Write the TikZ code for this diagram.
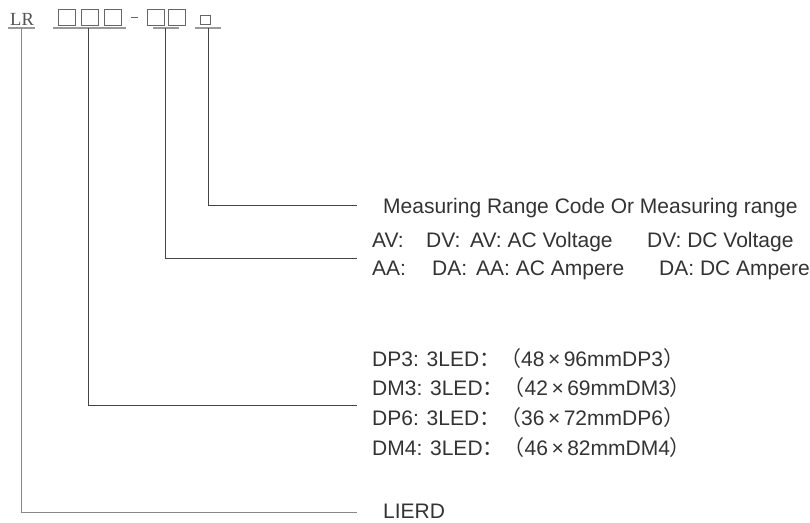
\documentclass[tikz,border=0pt]{standalone}
\usepackage{fontspec}
\setmainfont{Liberation Sans}
\newfontfamily\cjk{Noto Sans CJK SC}
\newfontfamily\serifLR{Liberation Serif}
\definecolor{txt}{HTML}{333333}
\definecolor{ln}{HTML}{444444}
\definecolor{stemgray}{HTML}{888888}
\definecolor{ul}{HTML}{999999}
\definecolor{bx}{HTML}{666666}
\newcommand{\fcolon}{{\cjk ：}}
\newcommand{\flp}{{\cjk （}}
\newcommand{\frp}{{\cjk ）}}
\begin{document}
\begin{tikzpicture}[x=1pt,y=-1pt,
  lbl/.style={anchor=base west, inner sep=0, text=txt, font=\fontsize{21}{25}\selectfont},
  sq/.style={draw=bx, line width=0.9pt, minimum width=17pt, minimum height=16pt, inner sep=0, anchor=north west},
  smallsq/.style={draw=bx, line width=0.9pt, minimum width=10pt, minimum height=9pt, inner sep=0, anchor=north west},
  ulin/.style={draw=ul, line width=1.5pt},
  conn/.style={draw=ln, line width=1pt},
  lconn/.style={draw=stemgray, line width=1pt}]
\useasboundingbox (0,0) rectangle (810,522);

% code line
\node[anchor=base west, inner sep=0, text=txt!85, font=\serifLR\fontsize{18.5}{20}\selectfont] (lr) at (10,25) {LR};
\node[sq] (b1) at (58,9) {};
\node[sq] (b2) at (81,9) {};
\node[sq] (b3) at (104,9) {};
\node[inner sep=0, text=bx] (dash) at (134,17) {\rule{7pt}{1pt}};
\node[sq] (b4) at (147,9) {};
\node[sq] (b5) at (168,9) {};
\node[smallsq] (b6) at (200,15) {};

% underlines
\coordinate (u1a) at (8,28);   \coordinate (u1b) at (35,28);
\coordinate (u2a) at (53,28);  \coordinate (u2b) at (126,28);
\coordinate (u3a) at (153,28); \coordinate (u3b) at (179,28);
\coordinate (u4a) at (195,28); \coordinate (u4b) at (221,28);
\draw[ulin] (u1a) -- (u1b);
\draw[ulin] (u2a) -- (u2b);
\draw[ulin] (u3a) -- (u3b);
\draw[ulin] (u4a) -- (u4b);

% stems and ends
\coordinate (s1) at (21,28);  \coordinate (e1) at (357,512);
\coordinate (s2) at (88,28);  \coordinate (e2) at (357,405);
\coordinate (s3) at (165,28); \coordinate (e3) at (357,258);
\coordinate (s4) at (208,28); \coordinate (e4) at (357,205);
\draw[lconn] (s1) |- (e1);
\draw[conn] (s2) |- (e2);
\draw[conn] (s3) |- (e3);
\draw[conn] (s4) |- (e4);

% labels
\node[lbl] (meas) at (383,213) {Measuring Range Code Or Measuring range};

\node[lbl] (av1) at (372,247) {AV:};
\node[lbl] (av2) at (426,247) {DV:};
\node[lbl] (av3) at (470,247) {AV: AC Voltage};
\node[lbl] (av4) at (647,247) {DV: DC Voltage};
\node[lbl] (aa1) at (372,275) {AA:};
\node[lbl] (aa2) at (432,275) {DA:};
\node[lbl] (aa3) at (476,275) {AA: AC Ampere};
\node[lbl] (aa4) at (659,275) {DA: DC Ampere};

\node[lbl] (dp3) at (372,366) {DP3: 3LED\fcolon\flp48\,×\,96mmDP3\frp};
\node[lbl] (dm3) at (372,395) {DM3: 3LED\fcolon\flp42\,×\,69mmDM3\frp};
\node[lbl] (dp6) at (372,425) {DP6: 3LED\fcolon\flp36\,×\,72mmDP6\frp};
\node[lbl] (dm4) at (372,455) {DM4: 3LED\fcolon\flp46\,×\,82mmDM4\frp};

\node[lbl] (lierd) at (383,518) {LIERD};
\end{tikzpicture}
\end{document}
